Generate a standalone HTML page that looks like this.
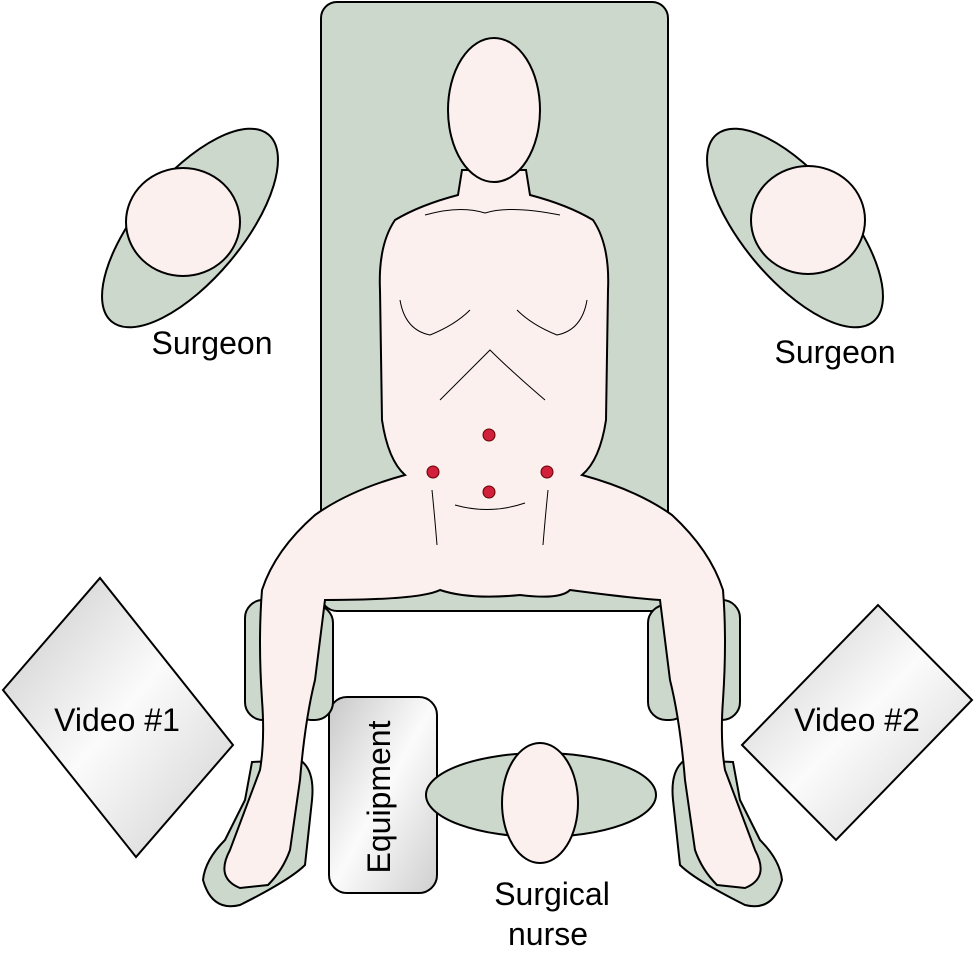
<!DOCTYPE html>
<html><head><style>body{margin:0;background:#fff}svg{display:block}text{font-family:"Liberation Sans",sans-serif;fill:#000}</style></head><body>
<svg width="975" height="953" viewBox="0 0 975 953">
<defs>
<linearGradient id="g" x1="0" y1="0" x2="1" y2="1">
<stop offset="0" stop-color="#c8c8c8"/><stop offset="0.5" stop-color="#fbfbfb"/><stop offset="1" stop-color="#cfcfcf"/></linearGradient>
</defs>
<g stroke="#000" stroke-width="2">
<rect x="321" y="2" width="347" height="609" rx="16" fill="#cdd8cc"/>
<!-- surgeons -->
<ellipse cx="190" cy="228" rx="122" ry="52" transform="rotate(-50 190 228)" fill="#cdd8cc"/>
<ellipse cx="183" cy="222" rx="57" ry="54" fill="#fbf0ee"/>
<ellipse cx="795" cy="228" rx="122" ry="52" transform="rotate(50 795 228)" fill="#cdd8cc"/>
<ellipse cx="808" cy="220" rx="57" ry="54" fill="#fbf0ee"/>
<!-- monitors -->
<polygon points="3,690 100,578 233,745 136,857" fill="url(#g)"/>
<polygon points="742,745 878,605 972,700 836,840" fill="url(#g)"/>
<rect x="329" y="697" width="108" height="196" rx="18" fill="url(#g)"/>
<!-- nurse -->
<ellipse cx="541" cy="795" rx="115" ry="42" fill="#cdd8cc"/>
<ellipse cx="540" cy="803" rx="38" ry="60" fill="#fbf0ee"/>
<!-- leg supports -->
<rect x="245" y="600" width="40" height="120" rx="18" fill="#cdd8cc"/>
<rect x="293" y="605" width="40" height="115" rx="18" fill="#cdd8cc"/>
<rect x="648" y="605" width="40" height="115" rx="18" fill="#cdd8cc"/>
<rect x="700" y="600" width="40" height="120" rx="18" fill="#cdd8cc"/>
<path d="M252,762 L300,760 Q315,770 312,800 L305,865 Q290,880 240,905 Q212,912 203,880 Q205,860 225,840 L245,800 Z" fill="#cdd8cc"/>
<path d="M733,762 L685,760 Q670,770 673,800 L680,865 Q695,880 745,905 Q773,912 782,880 Q780,860 760,840 L740,800 Z" fill="#cdd8cc"/>
<!-- body -->
<path d="M462,170 L458,195 Q420,205 395,220 Q378,245 380,290 L382,420 Q388,460 405,475 Q350,490 315,515 Q275,550 262,590 Q258,640 262,700 Q265,740 260,770 L230,850 Q215,878 240,888 L268,885 Q283,870 290,850 L300,780 Q305,720 315,680 L325,600 Q420,600 440,590 Q470,600 520,595 Q560,600 570,590 Q630,598 660,600 L670,680 Q680,720 685,780 L695,850 Q702,870 717,885 L745,888 Q770,878 755,850 L725,770 Q720,740 723,700 Q727,640 723,590 Q710,550 672,515 Q637,490 582,475 Q600,460 606,420 L608,290 Q610,245 593,220 Q568,205 530,195 L526,170 Z" fill="#fbf0ee"/>
<ellipse cx="494" cy="110" rx="46" ry="72" fill="#fbf0ee"/>
</g>
<g stroke="#000" stroke-width="1" fill="none">
<path d="M425,215 Q460,205 485,213 Q510,205 560,215"/>
<path d="M400,300 Q405,330 430,335 Q455,325 470,310"/>
<path d="M587,300 Q582,330 557,335 Q532,325 517,310"/>
<path d="M440,400 Q470,370 490,350 Q510,370 545,400"/>
<path d="M455,505 Q490,515 525,503"/>
<path d="M432,490 Q435,520 437,545"/>
<path d="M548,490 Q545,520 543,545"/>
</g>
<g fill="#d0203a" stroke="#600" stroke-width="1">
<circle cx="489" cy="435" r="6"/><circle cx="433" cy="472" r="6"/><circle cx="547" cy="472" r="6"/><circle cx="489" cy="492" r="6"/>
</g>
<g font-size="32" text-anchor="middle">
<text x="212" y="354">Surgeon</text>
<text x="835" y="363">Surgeon</text>
<text x="117" y="731">Video #1</text>
<text x="857" y="731">Video #2</text>
<text x="552" y="905">Surgical</text>
<text x="548" y="945">nurse</text>
<text transform="translate(390,797) rotate(-90)">Equipment</text>
</g>
</svg>
</body></html>
